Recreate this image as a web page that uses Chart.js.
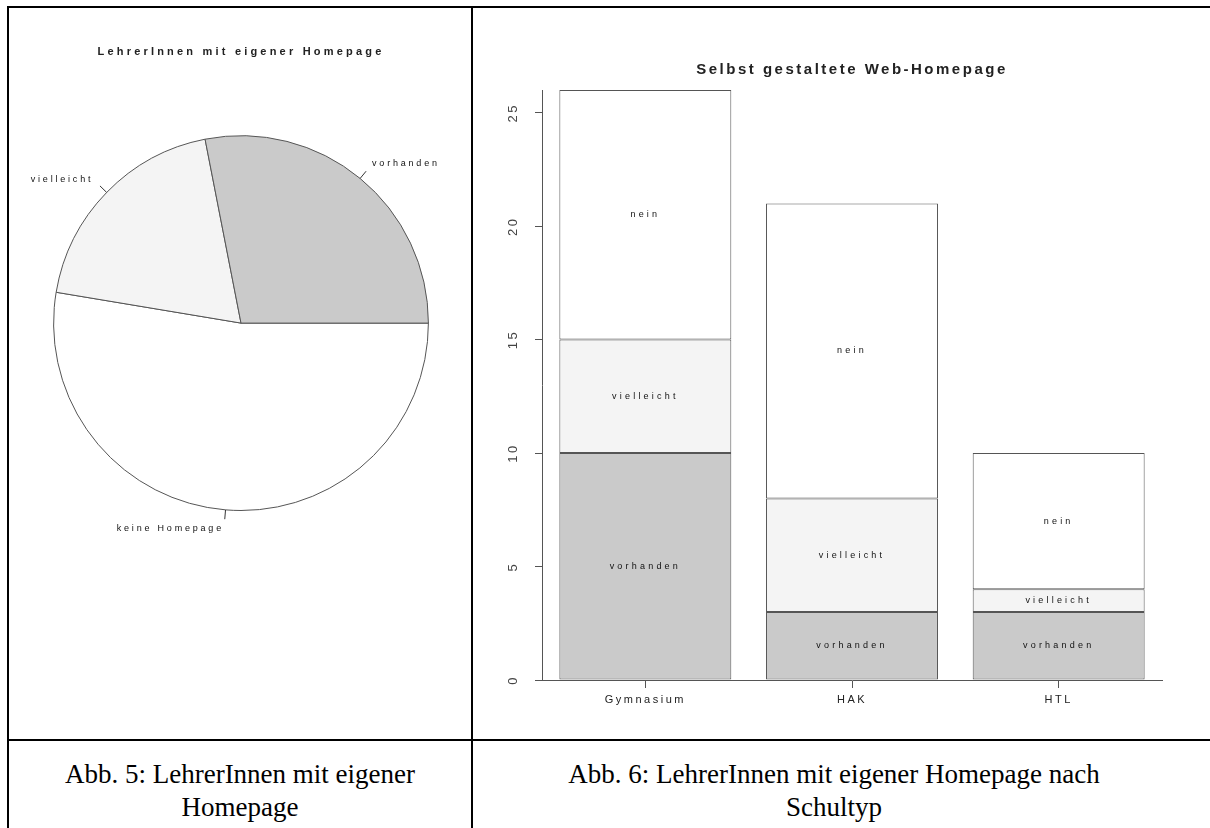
<!DOCTYPE html>
<html>
<head>
<meta charset="utf-8">
<script src="https://cdn.jsdelivr.net/npm/chart.js@4.4.0/dist/chart.umd.min.js"></script>
<style>
  body { margin: 0; background: #fff; width: 1210px; height: 828px; overflow: hidden; position: relative; }
  .ln  { position: absolute; background: #000; }
  .cap { position: absolute; text-align: center; font-family: "Liberation Serif", "Times New Roman", serif;
         font-size: 27px; line-height: 33px; color: #000; }
  .box { position: absolute; }
</style>
</head>
<body>
<div class="ln" style="left:7px;top:6px;width:1210px;height:2px"></div>
<div class="ln" style="left:7px;top:6px;width:2px;height:830px"></div>
<div class="ln" style="left:471px;top:6px;width:2px;height:830px"></div>
<div class="ln" style="left:7px;top:739px;width:1210px;height:2px"></div>

<div class="box" style="left:9px;top:8px;width:462px;height:731px"><canvas id="pieChart" width="462" height="731"></canvas></div>
<div class="box" style="left:473px;top:8px;width:737px;height:731px"><canvas id="barChart" width="737" height="731"></canvas></div>

<div class="cap" style="left:9px;top:758px;width:462px">Abb. 5: LehrerInnen mit eigener<br>Homepage</div>
<div class="cap" style="left:473px;top:758px;width:722px">Abb. 6: LehrerInnen mit eigener Homepage nach<br>Schultyp</div>

<script>
// pie: counted clockwise from 3 o'clock
var pieLabels = ['keine Homepage', 'vielleicht', 'vorhanden'];
var pieValues = [30, 11, 16];
var pieColors = ['#ffffff', '#f4f4f4', '#cacaca'];

// stacked bars per school type
var schools    = ['Gymnasium', 'HAK', 'HTL'];
var vorhanden  = [10, 3, 3];
var vielleicht = [5, 5, 1];
var nein       = [11, 13, 6];

var yMax = 26;
var yStep = 5;

Chart.defaults.font.family = '"Liberation Sans", Arial, sans-serif';
Chart.defaults.animation = false;

var spaced = {
    id: 'spaced',
    beforeDraw: function (chart, args, opts) {
        chart.ctx.letterSpacing = opts.spacing || '0px';
    }
};

var pieLabelPlugin = {
    id: 'pieLabels',
    afterDatasetsDraw: function (chart) {
        var ctx = chart.ctx;
        var meta = chart.getDatasetMeta(0);
        ctx.save();
        ctx.letterSpacing = '2.8px';
        ctx.font = '9px "Liberation Sans", Arial, sans-serif';
        ctx.fillStyle = '#111';
        ctx.strokeStyle = '#333';
        ctx.lineWidth = 1;
        ctx.textBaseline = 'middle';
        meta.data.forEach(function (arc, i) {
            var p = arc.getProps(['x', 'y', 'startAngle', 'endAngle', 'outerRadius'], true);
            var mid = (p.startAngle + p.endAngle) / 2;
            var c = Math.cos(mid), s = Math.sin(mid), r = p.outerRadius;
            ctx.beginPath();
            ctx.moveTo(p.x + c * r, p.y + s * r);
            ctx.lineTo(p.x + c * r * 1.05, p.y + s * r * 1.05);
            ctx.stroke();
            ctx.textAlign = c < 0 ? 'right' : 'left';
            ctx.fillText(chart.data.labels[i], p.x + c * r * 1.1, p.y + s * r * 1.1);
        });
        ctx.restore();
    }
};

var barLabelPlugin = {
    id: 'barLabels',
    afterDatasetsDraw: function (chart) {
        var ctx = chart.ctx;
        ctx.save();
        ctx.letterSpacing = '3.2px';
        ctx.font = '9px "Liberation Sans", Arial, sans-serif';
        ctx.fillStyle = '#111';
        ctx.textAlign = 'center';
        ctx.textBaseline = 'middle';
        chart.data.datasets.forEach(function (ds, d) {
            chart.getDatasetMeta(d).data.forEach(function (bar) {
                var p = bar.getProps(['x', 'y', 'base'], true);
                ctx.fillText(ds.label, p.x, (p.y + p.base) / 2);
            });
        });
        ctx.restore();
    }
};

new Chart(document.getElementById('pieChart'), {
    type: 'pie',
    data: {
        labels: pieLabels,
        datasets: [{
            data: pieValues,
            backgroundColor: pieColors,
            borderColor: '#555',
            borderWidth: 1,
            hoverOffset: 0,
            offset: 0
        }]
    },
    options: {
        responsive: false,
        rotation: 90,
        layout: { padding: { left: 44, right: 42, top: 0, bottom: 228 } },
        events: [],
        plugins: {
            spaced: { spacing: '3.2px' },
            legend: { display: false },
            tooltip: { enabled: false },
            title: {
                display: true,
                text: 'LehrerInnen mit eigener Homepage',
                fullSize: false,
                color: '#222',
                font: { size: 11, weight: 'bold' },
                padding: { top: 37, bottom: 77 }
            }
        }
    },
    plugins: [spaced, pieLabelPlugin]
});

function segment(label, values, color) {
    return {
        label: label,
        data: values,
        backgroundColor: color,
        borderColor: '#555',
        borderWidth: 1,
        borderSkipped: false,
        barPercentage: 1,
        categoryPercentage: 0.832
    };
}

new Chart(document.getElementById('barChart'), {
    type: 'bar',
    data: {
        labels: schools,
        datasets: [
            segment('vorhanden', vorhanden, '#cacaca'),
            segment('vielleicht', vielleicht, '#f4f4f4'),
            segment('nein', nein, '#ffffff')
        ]
    },
    options: {
        responsive: false,
        events: [],
        layout: { padding: { left: 29, right: 48, top: 0, bottom: 19 } },
        plugins: {
            spaced: { spacing: '2.5px' },
            legend: { display: false },
            tooltip: { enabled: false },
            title: {
                display: true,
                text: 'Selbst gestaltete Web-Homepage',
                fullSize: false,
                color: '#222',
                font: { size: 15, weight: 'bold' },
                padding: { top: 53, bottom: 11 }
            }
        },
        scales: {
            x: {
                stacked: true,
                afterFit: function (s) { s.height = 40; },
                grid: { drawOnChartArea: false, drawTicks: true, tickLength: 8, offset: false, color: '#555' },
                border: { display: true, color: '#555' },
                ticks: { color: '#222', font: { size: 11 }, padding: 5 }
            },
            y: {
                stacked: true,
                min: 0,
                max: yMax,
                afterFit: function (s) { s.width = 40; },
                grid: { drawOnChartArea: false, drawTicks: true, tickLength: 7, color: '#555' },
                border: { display: true, color: '#555' },
                ticks: {
                    stepSize: yStep,
                    includeBounds: false,
                    minRotation: 90,
                    maxRotation: 90,
                    crossAlign: 'center',
                    padding: 14,
                    color: '#444',
                    font: { size: 13 }
                }
            }
        }
    },
    plugins: [spaced, barLabelPlugin]
});
</script>
</body>
</html>
